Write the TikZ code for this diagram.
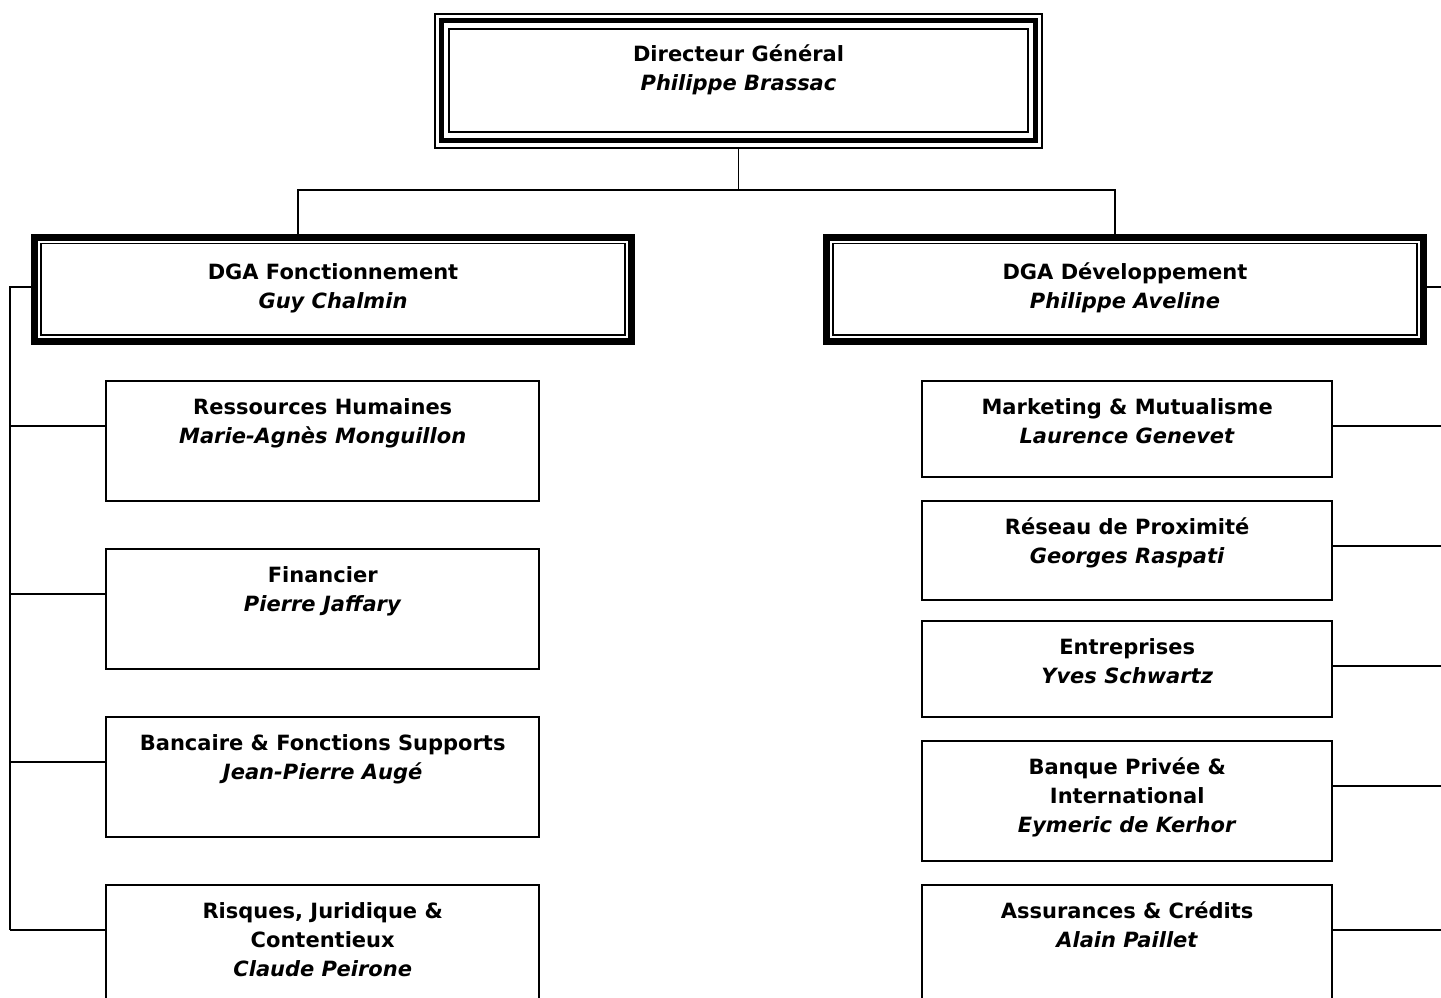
\documentclass[tikz,border=0pt]{standalone}
\usepackage{fontspec}
\setmainfont{DejaVu Sans}
\usetikzlibrary{positioning}
\newcommand{\who}[1]{\textit{#1}}
\tikzset{org/.style={draw,line width=2.4pt,inner sep=0pt,align=center,anchor=north west,
                     font=\fontsize{21}{29}\selectfont\bfseries,text height=62.5pt},
         three lines/.style={text height=91.5pt},
         dg box/.style={org,line width=2pt,text height=76pt,
            path picture={
              \draw[line width=5pt] ([shift={(6pt,-6.5pt)}]path picture bounding box.north west) rectangle ([shift={(-7pt,8pt)}]path picture bounding box.south east);
              \draw[line width=2pt] ([shift={(14pt,-15pt)}]path picture bounding box.north west) rectangle ([shift={(-14pt,16pt)}]path picture bounding box.south east);}},
         dga box/.style={org,line width=7pt,text height=71pt,
            path picture={
              \draw[line width=1.8pt] ([shift={(6.5pt,-6.5pt)}]path picture bounding box.north west) rectangle ([shift={(-6.5pt,6.5pt)}]path picture bounding box.south east);}},
         link/.style={line width=1.6pt}
}
\begin{document}
\begin{tikzpicture}[x=1pt,y=-1pt]
\useasboundingbox (0,0) rectangle (1441,997);
\clip (0,0) rectangle (1441,997);
% direction
\node[dg box,minimum width=607pt,text depth=58pt] (dg) at (434,13) {Directeur Général\\\who{Philippe Brassac}};
\node[dga box,minimum width=597pt,text depth=33.5pt] (dgaf) at (31,233.5) {DGA Fonctionnement\\\who{Guy Chalmin}};
\node[dga box,minimum width=597pt,text depth=33.5pt] (dgad) at (823,233.5) {DGA Développement\\\who{Philippe Aveline}};
% fonctionnement
\node[org,minimum width=433pt,text depth=57.5pt] (rh) at (105,380) {Ressources Humaines\\\who{Marie-Agnès Monguillon}};
\node[org,minimum width=433pt,text depth=57.5pt] (fin) at (105,548) {Financier\\\who{Pierre Jaffary}};
\node[org,minimum width=433pt,text depth=57.5pt] (bfs) at (105,716) {Bancaire \& Fonctions Supports\\\who{Jean-Pierre Augé}};
\node[org,three lines,minimum width=433pt,text depth=28.5pt] (rjc) at (105,884) {Risques, Juridique \&\\Contentieux\\\who{Claude Peirone}};
% developpement
\node[org,minimum width=410pt,text depth=33.5pt] (mkt) at (921,380) {Marketing \& Mutualisme\\\who{Laurence Genevet}};
\node[org,minimum width=410pt,text depth=36.5pt] (rsx) at (921,500) {Réseau de Proximité\\\who{Georges Raspati}};
\node[org,minimum width=410pt,text depth=33.5pt] (ent) at (921,620) {Entreprises\\\who{Yves Schwartz}};
\node[org,three lines,minimum width=410pt,text depth=28.5pt] (bpi) at (921,740) {Banque Privée \&\\International\\\who{Eymeric de Kerhor}};
\node[org,minimum width=410pt,text depth=57.5pt] (asc) at (921,884) {Assurances \& Crédits\\\who{Alain Paillet}};

\draw[link] (dg.south) -- ++(0,-41pt);
\draw[link] ([xshift=-35pt]dgaf.north) |- ([yshift=-41pt]dg.south) -| ([xshift=-10pt]dgad.north);

\coordinate (fl) at (10,930);
\draw[link] ([yshift=2pt]dgaf.west) -| (fl);
\foreach \b in {rh,fin,bfs,rjc}
  \draw[link] ([yshift=-46pt]\b.north west) -- ++(-95pt,0);

\draw[link] ([yshift=2pt]dgad.east) -- ++(30pt,0);
\foreach \b in {mkt,rsx,ent,bpi,asc}
  \draw[link] ([yshift=-46pt]\b.north east) -- ++(120pt,0);
\end{tikzpicture}
\end{document}
